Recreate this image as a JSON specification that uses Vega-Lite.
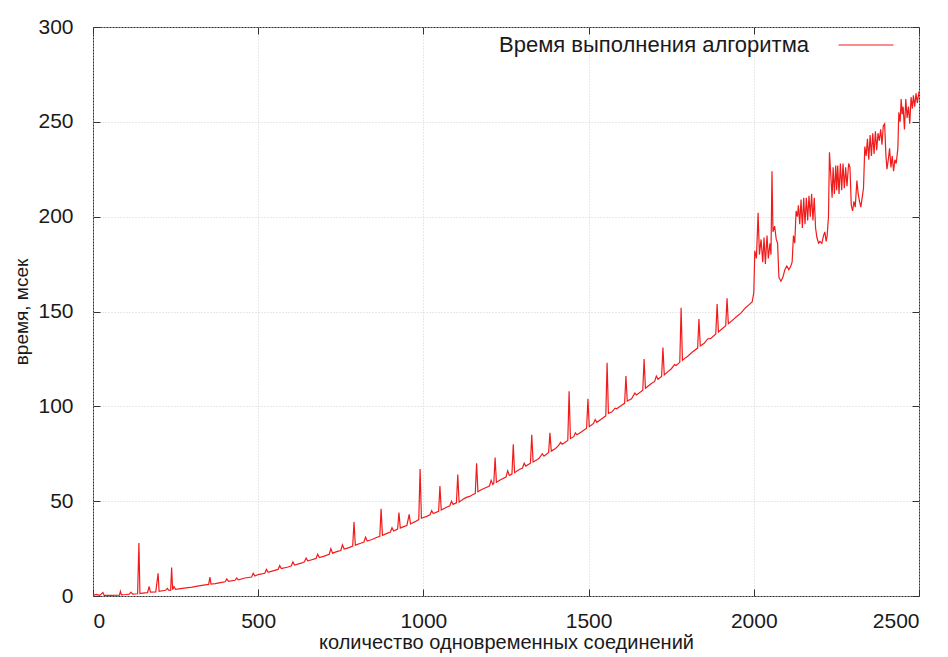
{
  "$schema": "https://vega.github.io/schema/vega-lite/v6.json",
  "width": 826,
  "height": 569,
  "autosize": "none",
  "padding": {"left": 93, "top": 27, "right": 29, "bottom": 61},
  "background": "white",
  "config": {
    "view": {"stroke": "#333", "strokeWidth": 1},
    "font": "Liberation Sans",
    "axis": {
      "domain": false,
      "labelFont": "Liberation Sans",
      "labelFontSize": 21,
      "labelColor": "#1a1a1a",
      "titleFont": "Liberation Sans",
      "titleFontWeight": "normal",
      "titleColor": "#1a1a1a",
      "tickColor": "#333",
      "tickSize": -7,
      "gridColor": "#d0d0d0",
      "gridDash": [1, 2],
      "gridWidth": 1
    }
  },
  "data": {"values": [
    {"x":0,"y":0.3},{"x":10,"y":0.8},{"x":20,"y":0.3},{"x":30,"y":1.8},{"x":34,"y":0.3},{"x":50,"y":0.35},
    {"x":80,"y":0.5},{"x":83,"y":2.5},{"x":86,"y":0.6},{"x":100,"y":0.8},{"x":110,"y":1.0},{"x":115,"y":2.0},
    {"x":120,"y":1.0},{"x":135,"y":1.2},{"x":139,"y":28},{"x":142,"y":1.3},{"x":150,"y":1.5},{"x":165,"y":1.8},
    {"x":170,"y":5},{"x":174,"y":2.0},{"x":190,"y":2.2},{"x":197,"y":12},{"x":200,"y":2.5},{"x":220,"y":3.0},
    {"x":225,"y":4},{"x":230,"y":3.0},{"x":235,"y":3.1},{"x":238,"y":15},{"x":241,"y":3.3},{"x":245,"y":5},
    {"x":250,"y":3.5},{"x":270,"y":4},{"x":300,"y":4.7},{"x":320,"y":5.3},{"x":345,"y":6},{"x":350,"y":6.1},
    {"x":354,"y":10},{"x":357,"y":6.3},{"x":370,"y":6.5},{"x":390,"y":7.2},{"x":400,"y":7.5},{"x":405,"y":9},
    {"x":410,"y":7.7},{"x":430,"y":8.3},{"x":435,"y":9.5},{"x":440,"y":8.5},{"x":460,"y":9.5},{"x":480,"y":10},
    {"x":485,"y":12},{"x":490,"y":10.5},{"x":500,"y":11.3},{"x":520,"y":12},{"x":525,"y":14},{"x":530,"y":12.5},
    {"x":550,"y":13.5},{"x":560,"y":14},{"x":565,"y":16},{"x":570,"y":14.5},{"x":590,"y":15.3},{"x":600,"y":15.8},
    {"x":605,"y":18},{"x":610,"y":16.3},{"x":630,"y":17.3},{"x":640,"y":18},{"x":645,"y":20},{"x":650,"y":18.5},
    {"x":660,"y":19},{"x":675,"y":19.8},{"x":680,"y":22},{"x":685,"y":20.3},{"x":700,"y":21},{"x":715,"y":22},
    {"x":720,"y":25},{"x":725,"y":22.6},{"x":740,"y":23.5},{"x":750,"y":24},{"x":755,"y":27},{"x":760,"y":24.8},
    {"x":775,"y":25.5},{"x":786,"y":26.3},{"x":790,"y":39},{"x":794,"y":26.8},{"x":810,"y":27.8},{"x":820,"y":28.5},
    {"x":825,"y":31},{"x":830,"y":29},{"x":840,"y":29.5},{"x":850,"y":30.2},{"x":860,"y":31},{"x":868,"y":31.5},
    {"x":872,"y":46},{"x":876,"y":32},{"x":890,"y":33},{"x":900,"y":33.7},{"x":905,"y":36},{"x":910,"y":34.3},
    {"x":922,"y":35.3},{"x":926,"y":44},{"x":930,"y":35.8},{"x":940,"y":36.6},{"x":950,"y":37.2},{"x":957,"y":43},
    {"x":961,"y":38},{"x":975,"y":39.2},{"x":986,"y":40.3},{"x":990,"y":67},{"x":994,"y":41},{"x":1010,"y":42},
    {"x":1020,"y":42.8},{"x":1025,"y":45},{"x":1030,"y":43.5},{"x":1046,"y":44.6},{"x":1050,"y":58},{"x":1054,"y":45.3},
    {"x":1070,"y":46.8},{"x":1080,"y":47.6},{"x":1085,"y":50},{"x":1090,"y":48.3},{"x":1100,"y":49.1},{"x":1104,"y":64},
    {"x":1108,"y":49.5},{"x":1120,"y":51},{"x":1130,"y":52},{"x":1140,"y":52.5},{"x":1150,"y":53.5},{"x":1157,"y":54},
    {"x":1161,"y":70},{"x":1165,"y":55},{"x":1175,"y":56},{"x":1190,"y":57.2},{"x":1200,"y":58},{"x":1205,"y":61},
    {"x":1210,"y":58.8},{"x":1213,"y":59.3},{"x":1217,"y":73},{"x":1221,"y":60},{"x":1235,"y":61.4},{"x":1250,"y":62.7},
    {"x":1255,"y":66},{"x":1260,"y":63.6},{"x":1268,"y":64.3},{"x":1272,"y":80},{"x":1276,"y":65},{"x":1290,"y":66.7},
    {"x":1300,"y":67.5},{"x":1305,"y":70},{"x":1310,"y":68.5},{"x":1324,"y":70},{"x":1328,"y":85},{"x":1332,"y":70.7},
    {"x":1345,"y":72},{"x":1350,"y":72.6},{"x":1360,"y":75},{"x":1365,"y":73.7},{"x":1379,"y":75.7},{"x":1383,"y":86},
    {"x":1387,"y":76.4},{"x":1400,"y":77.8},{"x":1410,"y":79.5},{"x":1415,"y":81},{"x":1420,"y":80},{"x":1437,"y":82},
    {"x":1441,"y":108},{"x":1445,"y":83},{"x":1455,"y":84},{"x":1460,"y":86},{"x":1465,"y":85},{"x":1480,"y":86.7},
    {"x":1494,"y":88.5},{"x":1498,"y":104},{"x":1502,"y":89.3},{"x":1515,"y":91},{"x":1520,"y":93},{"x":1525,"y":91.6},
    {"x":1540,"y":93.5},{"x":1552,"y":95},{"x":1556,"y":123},{"x":1560,"y":96.3},{"x":1570,"y":97},{"x":1580,"y":99},
    {"x":1585,"y":98.7},{"x":1600,"y":100.6},{"x":1609,"y":101.6},{"x":1613,"y":116},{"x":1617,"y":102.8},{"x":1630,"y":104},
    {"x":1640,"y":107},{"x":1645,"y":106},{"x":1664,"y":108.5},{"x":1668,"y":125},{"x":1672,"y":109.5},{"x":1690,"y":112},
    {"x":1700,"y":113.1},{"x":1705,"y":116},{"x":1710,"y":114.3},{"x":1721,"y":115.8},{"x":1725,"y":131},{"x":1729,"y":116.6},
    {"x":1740,"y":118.3},{"x":1750,"y":119.7},{"x":1760,"y":122},{"x":1765,"y":121.5},{"x":1776,"y":123.2},{"x":1780,"y":152},
    {"x":1784,"y":124.3},{"x":1795,"y":125.8},{"x":1800,"y":126.4},{"x":1810,"y":128},{"x":1815,"y":128.8},{"x":1830,"y":130.7},
    {"x":1834,"y":146},{"x":1838,"y":131.8},{"x":1850,"y":133.2},{"x":1860,"y":135.5},{"x":1870,"y":135.8},{"x":1885,"y":138.2},
    {"x":1889,"y":154},{"x":1893,"y":139.2},{"x":1905,"y":141},{"x":1915,"y":142.5},{"x":1919,"y":157},{"x":1923,"y":143.5},
    {"x":1935,"y":145.3},{"x":1950,"y":147.6},{"x":1960,"y":149},{"x":1970,"y":151},{"x":1975,"y":152},{"x":1985,"y":153.5},
    {"x":1995,"y":155},{"x":2000,"y":160},{"x":2003,"y":182},{"x":2008,"y":178},{"x":2013,"y":202},{"x":2017,"y":180},
    {"x":2022,"y":188},{"x":2027,"y":176},{"x":2031,"y":189},{"x":2035,"y":175},{"x":2040,"y":190},{"x":2044,"y":178},
    {"x":2049,"y":186},{"x":2052,"y":180},{"x":2055,"y":224},{"x":2058,"y":192},{"x":2063,"y":195},{"x":2068,"y":188},
    {"x":2072,"y":186},{"x":2076,"y":168},{"x":2082,"y":166},{"x":2088,"y":168},{"x":2094,"y":172},{"x":2100,"y":174},
    {"x":2106,"y":172},{"x":2112,"y":174},{"x":2116,"y":176},{"x":2120,"y":190},{"x":2124,"y":186},{"x":2128,"y":203},
    {"x":2132,"y":200},{"x":2135,"y":206},{"x":2139,"y":196},{"x":2143,"y":209},{"x":2147,"y":194},{"x":2151,"y":210},
    {"x":2155,"y":196},{"x":2159,"y":210},{"x":2163,"y":198},{"x":2167,"y":211},{"x":2171,"y":200},{"x":2175,"y":212},
    {"x":2179,"y":198},{"x":2183,"y":210},{"x":2187,"y":194},{"x":2191,"y":189},{"x":2196,"y":186},{"x":2200,"y":187},
    {"x":2206,"y":186},{"x":2211,"y":190},{"x":2215,"y":192},{"x":2219,"y":187},{"x":2222,"y":190},{"x":2226,"y":200},
    {"x":2229,"y":234},{"x":2233,"y":222},{"x":2237,"y":210},{"x":2240,"y":226},{"x":2244,"y":212},{"x":2248,"y":227},
    {"x":2251,"y":214},{"x":2254,"y":227},{"x":2258,"y":212},{"x":2262,"y":228},{"x":2266,"y":214},{"x":2270,"y":228},
    {"x":2274,"y":215},{"x":2278,"y":226},{"x":2282,"y":216},{"x":2287,"y":228},{"x":2291,"y":226},{"x":2295,"y":206},
    {"x":2299,"y":203},{"x":2303,"y":208},{"x":2307,"y":205},{"x":2312,"y":219},{"x":2316,"y":212},{"x":2320,"y":208},
    {"x":2324,"y":205},{"x":2328,"y":210},{"x":2332,"y":215},{"x":2336,"y":237},{"x":2340,"y":232},{"x":2344,"y":241},
    {"x":2348,"y":230},{"x":2352,"y":243},{"x":2356,"y":232},{"x":2360,"y":244},{"x":2364,"y":233},{"x":2368,"y":245},
    {"x":2372,"y":235},{"x":2376,"y":244},{"x":2380,"y":240},{"x":2384,"y":246},{"x":2388,"y":238},{"x":2392,"y":248},
    {"x":2396,"y":249},{"x":2400,"y":232},{"x":2403,"y":225},{"x":2407,"y":230},{"x":2411,"y":236},{"x":2415,"y":226},
    {"x":2419,"y":232},{"x":2423,"y":224},{"x":2427,"y":230},{"x":2431,"y":228},{"x":2436,"y":236},{"x":2439,"y":255},
    {"x":2443,"y":250},{"x":2446,"y":262},{"x":2449,"y":254},{"x":2452,"y":258},{"x":2456,"y":246},{"x":2460,"y":262},
    {"x":2464,"y":252},{"x":2468,"y":258},{"x":2472,"y":249},{"x":2476,"y":263},{"x":2480,"y":257},{"x":2483,"y":264},
    {"x":2487,"y":258},{"x":2491,"y":265},{"x":2495,"y":260},{"x":2500,"y":266}
  ]},
  "layer": [
    {
      "mark": {"type": "line", "strokeWidth": 1.2, "interpolate": "linear"},
      "encoding": {
        "x": {"field": "x", "type": "quantitative",
              "scale": {"domain": [0, 2500], "nice": false, "zero": false},
              "axis": {"values": [0, 500, 1000, 1500, 2000, 2500], "format": "d", "title": "количество одновременных соединений",
                       "titleFontSize": 20, "labelPadding": 21, "titlePadding": 1, "grid": true}},
        "y": {"field": "y", "type": "quantitative",
              "scale": {"domain": [0, 300], "nice": false},
              "axis": {"values": [0, 50, 100, 150, 200, 250, 300], "format": "d", "title": "время, мсек",
                       "titleFontSize": 19, "labelPadding": 27, "titlePadding": 6, "grid": true}},
        "color": {"datum": "Время выполнения алгоритма", "type": "nominal",
                  "scale": {"range": ["#f21b1b"]},
                  "legend": {"title": null, "orient": "none", "legendX": 745, "legendY": -10,
                             "symbolType": "stroke", "symbolSize": 3025, "symbolStrokeWidth": 1,
                             "labelAlign": "right", "labelOffset": -85, "labelFontSize": 22, "labelLimit": 0,
                             "labelFont": "Liberation Sans", "labelColor": "#1a1a1a", "padding": 0}}
      }
    },
    {
      "mark": {"type": "point", "opacity": 0},
      "encoding": {
        "x": {"field": "x", "type": "quantitative",
              "axis": {"orient": "top", "values": [0, 500, 1000, 1500, 2000, 2500], "labels": false, "title": null, "grid": false}},
        "y": {"field": "y", "type": "quantitative",
              "axis": {"orient": "right", "values": [0, 50, 100, 150, 200, 250, 300], "labels": false, "title": null, "grid": false}}
      }
    }
  ],
  "resolve": {"axis": {"x": "independent", "y": "independent"}}
}
